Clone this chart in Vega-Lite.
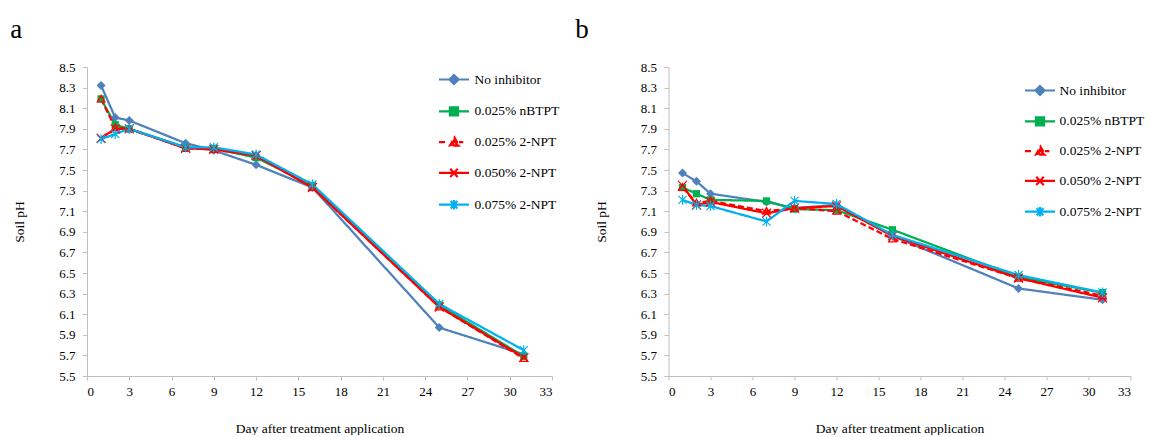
{
  "$schema": "https://vega.github.io/schema/vega-lite/v6.json",
  "padding": {"left": 10, "top": 16, "right": 0, "bottom": 0},
  "background": "white",
  "datasets": {
    "a": [
      {"series": "No inhibitor", "day": 1, "ph": 8.32}, {"series": "No inhibitor", "day": 2, "ph": 8.01}, {"series": "No inhibitor", "day": 3, "ph": 7.98}, {"series": "No inhibitor", "day": 7, "ph": 7.76}, {"series": "No inhibitor", "day": 9, "ph": 7.69}, {"series": "No inhibitor", "day": 12, "ph": 7.55}, {"series": "No inhibitor", "day": 16, "ph": 7.33}, {"series": "No inhibitor", "day": 25, "ph": 5.97}, {"series": "No inhibitor", "day": 31, "ph": 5.71},
      {"series": "0.025% nBTPT", "day": 1, "ph": 8.19}, {"series": "0.025% nBTPT", "day": 2, "ph": 7.94}, {"series": "0.025% nBTPT", "day": 3, "ph": 7.90}, {"series": "0.025% nBTPT", "day": 7, "ph": 7.72}, {"series": "0.025% nBTPT", "day": 9, "ph": 7.71}, {"series": "0.025% nBTPT", "day": 12, "ph": 7.62}, {"series": "0.025% nBTPT", "day": 16, "ph": 7.35}, {"series": "0.025% nBTPT", "day": 25, "ph": 6.19}, {"series": "0.025% nBTPT", "day": 31, "ph": 5.69},
      {"series": "0.025% 2-NPT", "day": 1, "ph": 8.19}, {"series": "0.025% 2-NPT", "day": 2, "ph": 7.91}, {"series": "0.025% 2-NPT", "day": 3, "ph": 7.90}, {"series": "0.025% 2-NPT", "day": 7, "ph": 7.71}, {"series": "0.025% 2-NPT", "day": 9, "ph": 7.70}, {"series": "0.025% 2-NPT", "day": 12, "ph": 7.64}, {"series": "0.025% 2-NPT", "day": 16, "ph": 7.33}, {"series": "0.025% 2-NPT", "day": 25, "ph": 6.17}, {"series": "0.025% 2-NPT", "day": 31, "ph": 5.67},
      {"series": "0.050% 2-NPT", "day": 1, "ph": 7.81}, {"series": "0.050% 2-NPT", "day": 2, "ph": 7.90}, {"series": "0.050% 2-NPT", "day": 3, "ph": 7.90}, {"series": "0.050% 2-NPT", "day": 7, "ph": 7.71}, {"series": "0.050% 2-NPT", "day": 9, "ph": 7.70}, {"series": "0.050% 2-NPT", "day": 12, "ph": 7.64}, {"series": "0.050% 2-NPT", "day": 16, "ph": 7.33}, {"series": "0.050% 2-NPT", "day": 25, "ph": 6.17}, {"series": "0.050% 2-NPT", "day": 31, "ph": 5.68},
      {"series": "0.075% 2-NPT", "day": 1, "ph": 7.80}, {"series": "0.075% 2-NPT", "day": 2, "ph": 7.85}, {"series": "0.075% 2-NPT", "day": 3, "ph": 7.90}, {"series": "0.075% 2-NPT", "day": 7, "ph": 7.72}, {"series": "0.075% 2-NPT", "day": 9, "ph": 7.72}, {"series": "0.075% 2-NPT", "day": 12, "ph": 7.65}, {"series": "0.075% 2-NPT", "day": 16, "ph": 7.36}, {"series": "0.075% 2-NPT", "day": 25, "ph": 6.20}, {"series": "0.075% 2-NPT", "day": 31, "ph": 5.75}
    ],
    "b": [
      {"series": "No inhibitor", "day": 1, "ph": 7.47}, {"series": "No inhibitor", "day": 2, "ph": 7.39}, {"series": "No inhibitor", "day": 3, "ph": 7.27}, {"series": "No inhibitor", "day": 7, "ph": 7.19}, {"series": "No inhibitor", "day": 9, "ph": 7.13}, {"series": "No inhibitor", "day": 12, "ph": 7.16}, {"series": "No inhibitor", "day": 16, "ph": 6.86}, {"series": "No inhibitor", "day": 25, "ph": 6.35}, {"series": "No inhibitor", "day": 31, "ph": 6.24},
      {"series": "0.025% nBTPT", "day": 1, "ph": 7.33}, {"series": "0.025% nBTPT", "day": 2, "ph": 7.27}, {"series": "0.025% nBTPT", "day": 3, "ph": 7.21}, {"series": "0.025% nBTPT", "day": 7, "ph": 7.20}, {"series": "0.025% nBTPT", "day": 9, "ph": 7.12}, {"series": "0.025% nBTPT", "day": 12, "ph": 7.11}, {"series": "0.025% nBTPT", "day": 16, "ph": 6.92}, {"series": "0.025% nBTPT", "day": 25, "ph": 6.46}, {"series": "0.025% nBTPT", "day": 31, "ph": 6.31},
      {"series": "0.025% 2-NPT", "day": 1, "ph": 7.33}, {"series": "0.025% 2-NPT", "day": 2, "ph": 7.18}, {"series": "0.025% 2-NPT", "day": 3, "ph": 7.20}, {"series": "0.025% 2-NPT", "day": 7, "ph": 7.10}, {"series": "0.025% 2-NPT", "day": 9, "ph": 7.13}, {"series": "0.025% 2-NPT", "day": 12, "ph": 7.10}, {"series": "0.025% 2-NPT", "day": 16, "ph": 6.83}, {"series": "0.025% 2-NPT", "day": 25, "ph": 6.45}, {"series": "0.025% 2-NPT", "day": 31, "ph": 6.28},
      {"series": "0.050% 2-NPT", "day": 1, "ph": 7.35}, {"series": "0.050% 2-NPT", "day": 2, "ph": 7.16}, {"series": "0.050% 2-NPT", "day": 3, "ph": 7.19}, {"series": "0.050% 2-NPT", "day": 7, "ph": 7.08}, {"series": "0.050% 2-NPT", "day": 9, "ph": 7.13}, {"series": "0.050% 2-NPT", "day": 12, "ph": 7.15}, {"series": "0.050% 2-NPT", "day": 16, "ph": 6.86}, {"series": "0.050% 2-NPT", "day": 25, "ph": 6.45}, {"series": "0.050% 2-NPT", "day": 31, "ph": 6.26},
      {"series": "0.075% 2-NPT", "day": 1, "ph": 7.21}, {"series": "0.075% 2-NPT", "day": 2, "ph": 7.16}, {"series": "0.075% 2-NPT", "day": 3, "ph": 7.15}, {"series": "0.075% 2-NPT", "day": 7, "ph": 7.00}, {"series": "0.075% 2-NPT", "day": 9, "ph": 7.20}, {"series": "0.075% 2-NPT", "day": 12, "ph": 7.17}, {"series": "0.075% 2-NPT", "day": 16, "ph": 6.87}, {"series": "0.075% 2-NPT", "day": 25, "ph": 6.48}, {"series": "0.075% 2-NPT", "day": 31, "ph": 6.31}
    ]
  },
  "spacing": 14.5,
  "hconcat": [
    {
      "width": 465, "height": 309,
      "title": {"text": "a", "anchor": "start", "fontSize": 27, "fontWeight": "normal", "font": "Liberation Serif", "color": "#000", "dx": -2.5, "offset": 17},
      "data": {"name": "a"},
      "encoding": {
        "x": {"field": "day", "type": "quantitative", "scale": {"domain": [0, 33], "nice": false}, "axis": {"values": [0, 3, 6, 9, 12, 15, 18, 21, 24, 27, 30, 33], "labelOverlap": false, "title": "Day after treatment application", "tickSize": 4, "labelPadding": 5, "titlePadding": 23}},
        "y": {"field": "ph", "type": "quantitative", "scale": {"domain": [5.5, 8.5], "nice": false, "zero": false}, "axis": {"values": [5.5, 5.7, 5.9, 6.1, 6.3, 6.5, 6.7, 6.9, 7.1, 7.3, 7.5, 7.7, 7.9, 8.1, 8.3, 8.5], "labelOverlap": false, "format": ".1f", "title": "Soil pH", "tickSize": 4.5, "labelPadding": 7.5, "titlePadding": 32}}
      },
      "layer": [
        {
          "mark": {"type": "line", "strokeWidth": 2.25},
          "encoding": {
            "color": {"field": "series", "type": "nominal", "scale": {"domain": ["No inhibitor", "0.025% nBTPT", "0.025% 2-NPT", "0.050% 2-NPT", "0.075% 2-NPT"], "range": ["#4F81BD", "#00B050", "#FF0000", "#FF0000", "#00B0F0"]},
              "legend": {"title": null, "orient": "none", "legendX": 350.5, "legendY": -4, "symbolSize": 900, "labelOffset": 4, "rowPadding": 5.8, "padding": 0, "labelFontSize": 13.5, "labelFont": "Liberation Serif", "labelColor": "#000",
                "encode": {"symbols": {"update": {
                  "shape": {"signal": "['M-1,0H1M0,-0.3L0.3,0L0,0.3L-0.3,0Z','M-1,0H1M-0.27,-0.27H0.27V0.27H-0.27Z','M-1,0H-0.56M0.33,0H0.62M0.03,-0.3L0.33,0.24L-0.27,0.24ZM0.03,-0.1L-0.12,0.16L0.18,0.16Z','M-1,0H1M-0.25,-0.28L0.25,0.28M-0.25,0.28L0.25,-0.28','M-1,0H1M-0.22,-0.25L0.22,0.25M-0.22,0.25L0.22,-0.25M0,-0.32V0.32'][indexof(['No inhibitor','0.025% nBTPT','0.025% 2-NPT','0.050% 2-NPT','0.075% 2-NPT'],datum.value)]"},
                  "fill": {"signal": "['#4F81BD','#00B050','#FF0000','#FF0000','#00B0F0'][indexof(['No inhibitor','0.025% nBTPT','0.025% 2-NPT','0.050% 2-NPT','0.075% 2-NPT'],datum.value)]"},
                  "stroke": {"signal": "['#4F81BD','#00B050','#FF0000','#FF0000','#00B0F0'][indexof(['No inhibitor','0.025% nBTPT','0.025% 2-NPT','0.050% 2-NPT','0.075% 2-NPT'],datum.value)]"},
                  "strokeWidth": {"value": 2.2}, "strokeDash": {"value": [1, 0]}, "opacity": {"value": 1}, "fillOpacity": {"value": 1}, "strokeOpacity": {"value": 1}, "size": {"value": 900}
                }}}
              }
            },
            "strokeDash": {"field": "series", "type": "nominal", "scale": {"domain": ["No inhibitor", "0.025% nBTPT", "0.025% 2-NPT", "0.050% 2-NPT", "0.075% 2-NPT"], "range": [[1, 0], [1, 0], [6, 3], [1, 0], [1, 0]]}, "legend": null}
          }
        },
        {"transform": [{"filter": "datum.series === 'No inhibitor'"}], "mark": {"type": "point", "shape": "M0,-1L1,0L0,1L-1,0Z", "size": 81, "filled": true, "color": "#4F81BD", "opacity": 1}},
        {"transform": [{"filter": "datum.series === '0.025% nBTPT'"}], "mark": {"type": "point", "shape": "M-0.8,-0.8H0.8V0.8H-0.8Z", "size": 81, "filled": true, "color": "#00B050", "opacity": 1}},
        {"transform": [{"filter": "datum.series === '0.025% 2-NPT'"}], "mark": {"type": "point", "shape": "M0,-1.1L1.1,0.8L-1.1,0.8ZM0,-0.45L-0.62,0.52L0.62,0.52Z", "size": 81, "filled": true, "color": "#FF0000", "opacity": 1}},
        {"transform": [{"filter": "datum.series === '0.050% 2-NPT'"}], "mark": {"type": "point", "shape": "M-1,-1L1,1M-1,1L1,-1", "size": 81, "filled": false, "color": "#FF0000", "strokeWidth": 1.2, "opacity": 1}},
        {"transform": [{"filter": "datum.series === '0.075% 2-NPT'"}], "mark": {"type": "point", "shape": "M-0.9,-0.9L0.9,0.9M-0.9,0.9L0.9,-0.9M0,-1.1V1.1", "size": 81, "filled": false, "color": "#00B0F0", "strokeWidth": 1.2, "opacity": 1}}
      ]
    },
    {
      "width": 462, "height": 309,
      "title": {"text": "b", "anchor": "start", "fontSize": 27, "fontWeight": "normal", "font": "Liberation Serif", "color": "#000", "dx": -19, "offset": 17},
      "data": {"name": "b"},
      "encoding": {
        "x": {"field": "day", "type": "quantitative", "scale": {"domain": [0, 33], "nice": false}, "axis": {"values": [0, 3, 6, 9, 12, 15, 18, 21, 24, 27, 30, 33], "labelOverlap": false, "title": "Day after treatment application", "tickSize": 4, "labelPadding": 5, "titlePadding": 23}},
        "y": {"field": "ph", "type": "quantitative", "scale": {"domain": [5.5, 8.5], "nice": false, "zero": false}, "axis": {"values": [5.5, 5.7, 5.9, 6.1, 6.3, 6.5, 6.7, 6.9, 7.1, 7.3, 7.5, 7.7, 7.9, 8.1, 8.3, 8.5], "labelOverlap": false, "format": ".1f", "title": "Soil pH", "tickSize": 4.5, "labelPadding": 7.5, "titlePadding": 32}}
      },
      "layer": [
        {
          "mark": {"type": "line", "strokeWidth": 2.25},
          "encoding": {
            "color": {"field": "series", "type": "nominal", "scale": {"domain": ["No inhibitor", "0.025% nBTPT", "0.025% 2-NPT", "0.050% 2-NPT", "0.075% 2-NPT"], "range": ["#4F81BD", "#00B050", "#FF0000", "#FF0000", "#00B0F0"]},
              "legend": {"title": null, "orient": "none", "legendX": 355, "legendY": 7, "symbolSize": 900, "labelOffset": 3, "rowPadding": 4.8, "padding": 0, "labelFontSize": 13.5, "labelFont": "Liberation Serif", "labelColor": "#000",
                "encode": {"symbols": {"update": {
                  "shape": {"signal": "['M-1,0H1M0,-0.3L0.3,0L0,0.3L-0.3,0Z','M-1,0H1M-0.27,-0.27H0.27V0.27H-0.27Z','M-1,0H-0.56M0.33,0H0.62M0.03,-0.3L0.33,0.24L-0.27,0.24ZM0.03,-0.1L-0.12,0.16L0.18,0.16Z','M-1,0H1M-0.25,-0.28L0.25,0.28M-0.25,0.28L0.25,-0.28','M-1,0H1M-0.22,-0.25L0.22,0.25M-0.22,0.25L0.22,-0.25M0,-0.32V0.32'][indexof(['No inhibitor','0.025% nBTPT','0.025% 2-NPT','0.050% 2-NPT','0.075% 2-NPT'],datum.value)]"},
                  "fill": {"signal": "['#4F81BD','#00B050','#FF0000','#FF0000','#00B0F0'][indexof(['No inhibitor','0.025% nBTPT','0.025% 2-NPT','0.050% 2-NPT','0.075% 2-NPT'],datum.value)]"},
                  "stroke": {"signal": "['#4F81BD','#00B050','#FF0000','#FF0000','#00B0F0'][indexof(['No inhibitor','0.025% nBTPT','0.025% 2-NPT','0.050% 2-NPT','0.075% 2-NPT'],datum.value)]"},
                  "strokeWidth": {"value": 2.2}, "strokeDash": {"value": [1, 0]}, "opacity": {"value": 1}, "fillOpacity": {"value": 1}, "strokeOpacity": {"value": 1}, "size": {"value": 900}
                }}}
              }
            },
            "strokeDash": {"field": "series", "type": "nominal", "scale": {"domain": ["No inhibitor", "0.025% nBTPT", "0.025% 2-NPT", "0.050% 2-NPT", "0.075% 2-NPT"], "range": [[1, 0], [1, 0], [6, 3], [1, 0], [1, 0]]}, "legend": null}
          }
        },
        {"transform": [{"filter": "datum.series === 'No inhibitor'"}], "mark": {"type": "point", "shape": "M0,-1L1,0L0,1L-1,0Z", "size": 81, "filled": true, "color": "#4F81BD", "opacity": 1}},
        {"transform": [{"filter": "datum.series === '0.025% nBTPT'"}], "mark": {"type": "point", "shape": "M-0.8,-0.8H0.8V0.8H-0.8Z", "size": 81, "filled": true, "color": "#00B050", "opacity": 1}},
        {"transform": [{"filter": "datum.series === '0.025% 2-NPT'"}], "mark": {"type": "point", "shape": "M0,-1.1L1.1,0.8L-1.1,0.8ZM0,-0.45L-0.62,0.52L0.62,0.52Z", "size": 81, "filled": true, "color": "#FF0000", "opacity": 1}},
        {"transform": [{"filter": "datum.series === '0.050% 2-NPT'"}], "mark": {"type": "point", "shape": "M-1,-1L1,1M-1,1L1,-1", "size": 81, "filled": false, "color": "#FF0000", "strokeWidth": 1.2, "opacity": 1}},
        {"transform": [{"filter": "datum.series === '0.075% 2-NPT'"}], "mark": {"type": "point", "shape": "M-0.9,-0.9L0.9,0.9M-0.9,0.9L0.9,-0.9M0,-1.1V1.1", "size": 81, "filled": false, "color": "#00B0F0", "strokeWidth": 1.2, "opacity": 1}}
      ]
    }
  ],
  "resolve": {
    "scale": {"x": "independent", "y": "independent", "color": "independent", "strokeDash": "independent"},
    "legend": {"color": "independent"}
  },
  "config": {
    "font": "Liberation Serif",
    "view": {"stroke": null},
    "axis": {"grid": false, "labelOverlap": false, "domainColor": "#BFBFBF", "tickColor": "#BFBFBF", "domainWidth": 1, "labelFont": "Liberation Serif", "labelFontSize": 13, "labelColor": "#000", "titleFont": "Liberation Serif", "titleFontSize": 13.5, "titleFontWeight": "normal", "titleColor": "#000"},
    "legend": {"labelFont": "Liberation Serif", "labelFontSize": 13.5, "labelColor": "#000"}
  }
}
